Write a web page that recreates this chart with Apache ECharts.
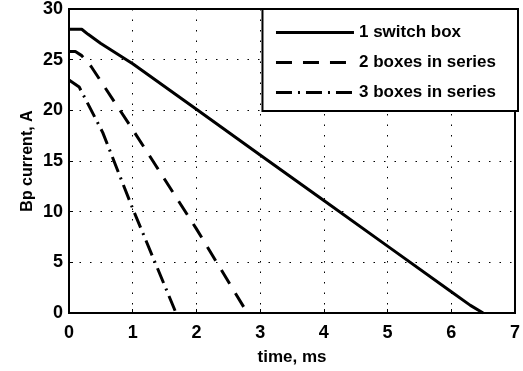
<!DOCTYPE html>
<html><head><meta charset="utf-8">
<script src="https://cdn.jsdelivr.net/npm/echarts@6/dist/echarts.min.js"></script>
<style>html,body{margin:0;padding:0;background:#fff}#c{width:523px;height:371px}</style>
</head><body><div id="c"></div>
<script>
const seriesNames = ['1 switch box', '2 boxes in series', '3 boxes in series'];
const oneBox = [[0,28],[0.2,28],[0.3,27.5],[0.5,26.6],[1,24.6],[2,20.1],[3,15.6],[4,11.1],[5,6.6],[6,2.1],[6.3,0.75],[6.5,0]];
const twoBoxes = [[0,25.8],[0.1,25.8],[0.2,25.4],[0.35,24.3],[1,18.1],[2,8.3],[2.8,0]];
const threeBoxes = [[0,23],[0.16,22.3],[0.35,20.0],[0.53,17.8],[1,10.3],[1.68,0]];
const xTicks = [0,1,2,3,4,5,6,7];
const yTicks = [0,5,10,15,20,25,30];

const font = 'Liberation Sans, Arial, sans-serif';
const chart = echarts.init(document.getElementById('c'), null, {renderer:'canvas'});
const grid = {left:69, right:7, top:9, bottom:56, show:true, borderColor:'#000', borderWidth:2, backgroundColor:'#fff'};
const gridLine = {show:true, lineStyle:{color:'#000', width:1, type:[1.5,9]}};
const mk = (name, data, type) => ({
  name, type:'line', data, showSymbol:false, symbol:'none', smooth:false,
  lineStyle:{color:'#000', width:3, type}, itemStyle:{color:'#000'}
});
chart.setOption({
  animation:false,
  grid,
  legend:{
    right:5, top:9, orient:'vertical', itemWidth:78, itemHeight:14, itemGap:13,
    padding:[15,22,10,12],
    borderColor:'#000', borderWidth:2, backgroundColor:'#fff',
    itemStyle:{opacity:0},
    lineStyle:{width:3},
    textStyle:{fontFamily:font, fontWeight:'bold', fontSize:17, color:'#000'},
    data: seriesNames
  },
  xAxis:[{
    type:'value', min:xTicks[0], max:xTicks[xTicks.length-1], interval:1,
    name:'time, ms', nameLocation:'middle', nameGap:36, nameMoveOverlap:false,
    nameTextStyle:{fontFamily:font, fontWeight:'bold', fontSize:17, color:'#000'},
    axisLine:{lineStyle:{color:'#000', width:2}},
    axisTick:{inside:true, length:4, lineStyle:{color:'#000'}},
    axisLabel:{fontFamily:font, fontWeight:'bold', fontSize:18, color:'#000', margin:11},
    splitLine:gridLine
  }],
  yAxis:[{
    type:'value', min:yTicks[0], max:yTicks[yTicks.length-1], interval:5,
    name:'Bp current, A', nameLocation:'middle', nameGap:33, nameMoveOverlap:false,
    nameTextStyle:{fontFamily:font, fontWeight:'bold', fontSize:16, color:'#000'},
    axisLine:{show:true, lineStyle:{color:'#000', width:2}},
    axisTick:{show:true, inside:true, length:4, lineStyle:{color:'#000'}},
    axisLabel:{fontFamily:font, fontWeight:'bold', fontSize:18, color:'#000', margin:6},
    splitLine:gridLine
  }],
  series:[
    mk(seriesNames[0], oneBox, 'solid'),
    mk(seriesNames[1], twoBoxes, [16,11]),
    mk(seriesNames[2], threeBoxes, [16,6,2,6])
  ]
});
</script></body></html>
